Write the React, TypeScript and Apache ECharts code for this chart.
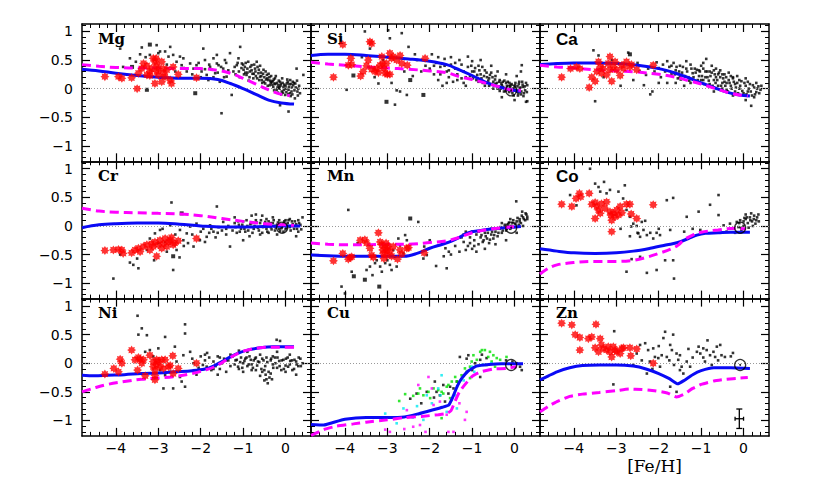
import React, { useEffect, useRef } from 'react';
import * as echarts from 'echarts';

// ---------- axes ----------
const X_MIN = -4.8;
const X_MAX = 0.6;
const Y_MIN = -1.27;
const Y_MAX = 1.13;
const xMajorTicks = [-4, -3, -2, -1, 0];
const xMinorTicks = [-4.6, -4.4, -4.2, -4, -3.8, -3.6, -3.4, -3.2, -3, -2.8, -2.6, -2.4, -2.2, -2, -1.8, -1.6, -1.4, -1.2, -1, -0.8, -0.6, -0.4, -0.2, 0, 0.2, 0.4];
const yMajorTicks = [-1, -0.5, 0, 0.5, 1];
const yMinorTicks = [-1.2, -1.1, -1, -0.9, -0.8, -0.7, -0.6, -0.5, -0.4, -0.3, -0.2, -0.1, 0, 0.1, 0.2, 0.3, 0.4, 0.5, 0.6, 0.7, 0.8, 0.9, 1, 1.1];
const xAxisName = '[Fe/H]';

const panelNames = ['Mg', 'Si', 'Ca', 'Cr', 'Mn', 'Co', 'Ni', 'Cu', 'Zn'];
const sansLabels = ['Ca', 'Co'];

// ---------- Mg ----------
const mgBlack = [-3.90,0.70,-3.83,0.38,-3.67,0.53,-3.53,0.47,-3.43,0.60,-3.39,0.72,-3.20,0.59,-3.04,0.76,-2.96,0.65,-2.84,0.65,-2.76,0.56,-2.72,0.73,-2.65,0.59,-2.57,0.47,-2.49,0.56,-2.45,0.41,-2.41,0.53,-2.33,0.30,-2.25,0.44,-2.17,0.35,-2.10,0.41,-1.98,0.30,-1.94,0.70,-1.90,0.50,-1.86,0.24,-1.82,0.15,-1.78,0.38,-1.74,0.33,-1.70,0.53,-1.66,0.27,-1.62,0.59,-1.58,0.41,-1.55,0.12,-1.51,-0.43,-1.47,0.35,-1.43,0.50,-1.39,0.21,-1.31,0.62,-1.27,-0.11,-1.23,0.30,-1.15,0.41,-1.11,0.53,-1.07,0.73,-1.03,0.44,-0.99,0.33,-0.96,0.38,-0.92,0.24,-0.88,0.47,-0.84,0.30,-0.80,0.41,-0.76,0.18,-0.72,0.35,-0.68,0.47,-0.64,0.27,-0.60,0.21,-0.56,0.15,-0.52,0.33,-0.48,0.09,-0.44,0.24,-0.41,0.15,-0.37,0.06,-0.33,0.12,-0.29,0.03,-0.25,0.18,-0.21,-0.02,-0.17,0.06,-0.13,0.12,-0.09,-0.05,-0.05,0.03,-0.01,-0.11,0.03,0.09,0.07,-0.02,0.11,0.15,0.14,-0.05,0.18,0.06,0.22,-0.17,0.26,0.35,0.30,0.00,0.34,-0.08,0.07,-0.40,-0.13,-0.29,0.42,0.24,-1.2,0.38,-1.1,0.3,-1.0,0.42,-0.95,0.28,-0.9,0.35,-0.85,0.2,-0.8,0.32,-0.75,0.26,-0.7,0.22,-0.66,0.38,-0.62,0.15,-0.58,0.28,-0.55,0.1,-0.5,0.2,-0.46,0.16,-0.42,0.05,-0.38,0.2,-0.35,0.1,-0.3,0.13,-0.27,-0.03,-0.24,0.08,-0.2,0.1,-0.18,-0.07,-0.15,0.02,-0.12,0.05,-0.1,-0.1,-0.07,0.1,-0.04,-0.02,0.0,0.05,0.02,-0.06,0.05,0.12,0.08,0.03,0.1,-0.08,0.13,0.08,0.16,-0.1,0.2,0.1,0.24,0.02,0.28,-0.05,-1.4,0.45,-1.6,0.28,-1.8,0.42,-2.0,0.2,-2.2,0.25,-2.4,0.36,-2.6,0.3,-2.8,0.42,-3.0,0.62,-3.3,0.55,
  -1.18,0.25,-1.13,0.45,-1.08,0.2,-1.04,0.36,-0.98,0.25,-0.94,0.45,-0.9,0.28,-0.87,0.14,-0.83,0.38,-0.78,0.26,-0.74,0.42,-0.71,0.3,-0.67,0.18,-0.63,0.33,-0.6,0.4,-0.57,0.22,-0.53,0.26,-0.51,0.12,-0.47,0.3,-0.43,0.18,-0.4,0.26,-0.36,0.14,-0.34,0.22,-0.31,0.07,-0.28,0.16,-0.26,0.09,-0.23,0.22,-0.19,0.02,-0.16,0.14,-0.14,0.0,-0.11,0.08,-0.08,0.18,-0.06,-0.07,-0.03,0.07,0.01,0.0,0.04,0.16,0.06,-0.1,0.09,0.08,0.12,-0.13,0.15,0.02,0.17,0.12,0.21,-0.03,0.23,0.09,0.27,0.14,0.29,-0.12,0.32,0.05,-1.35,0.32,-1.45,0.2,-1.52,0.38,-1.62,0.44,-1.7,0.2,-1.9,0.34,-2.05,0.45];
const mgBig = [-3.27,-0.02,-2.13,-0.08,-3.2,0.77,-3.62,0.38];
const mgRed = [-4.26,0.21,-3.94,0.21,-3.86,0.18,-3.63,0.19,-3.50,0.0,-3.47,0.27,-3.39,0.35,-3.35,0.44,-3.27,0.24,-3.20,0.30,-3.16,0.35,-3.12,0.53,-3.08,0.47,-3.05,0.53,-3.04,0.41,-3.0,0.35,-3.0,0.24,-2.92,0.47,-2.88,0.35,-2.88,0.27,-2.84,0.21,-2.92,0.12,-3.08,0.09,-2.72,0.15,-2.69,0.09,-2.65,0.38,-2.53,0.25,-2.10,0.19,-3.20,0.23,-3.27,0.40,-3.04,0.30,-2.80,0.33];
const mgBlue = [-4.8,0.34,-4.4,0.31,-4,0.27,-3.5,0.23,-3,0.2,-2.5,0.18,-2,0.18,-1.6,0.16,-1.3,0.09,-1,0.0,-0.7,-0.1,-0.4,-0.2,-0.1,-0.25,0.2,-0.27];
const mgMagenta = [-4.8,0.42,-4.4,0.39,-4,0.37,-3.5,0.36,-3,0.36,-2.5,0.35,-2,0.35,-1.6,0.32,-1.3,0.27,-1,0.18,-0.7,0.08,-0.4,-0.02,-0.1,-0.1,0.1,-0.12];

// ---------- Si ----------
const siBlack = [-3.96,-0.02,-3.53,1.0,-3.41,0.7,-3.21,0.09,-2.98,1.02,-2.94,0.88,-2.82,-0.28,-2.78,-0.03,-2.7,-0.05,-2.54,-0.11,-2.66,0.97,-2.5,0.73,-2.35,0.6,-2.2,0.3,-2.1,0.4,-2.6,0.3,-2.4,0.22,-3.6,0.55,-3.3,0.2,-3.1,0.5,-2.9,0.1,-2.3,0.5,-2.0,0.35,-1.95,0.6,-1.9,0.25,-1.85,0.45,-1.8,0.15,-1.75,0.38,-1.7,0.05,-1.65,0.52,-1.6,0.3,-1.55,0.2,-1.5,0.42,-1.45,0.12,-1.4,0.35,-1.35,0.25,-1.3,0.5,-1.25,0.18,-1.2,0.3,-1.15,0.05,-1.1,0.38,-1.05,0.22,-1.0,0.48,-0.95,0.3,-0.9,0.15,-0.85,0.4,-0.8,0.25,-0.75,0.1,-0.7,0.32,-0.65,0.2,-0.6,0.05,-0.55,0.28,-0.5,0.12,-0.45,0.22,-0.4,0.0,-0.35,0.15,-0.3,0.06,-0.25,-0.05,-0.2,0.1,-0.15,-0.02,-0.1,0.05,-0.05,-0.08,0.0,0.02,0.05,-0.05,0.1,0.08,0.15,-0.1,0.2,0.03,0.25,-0.03,0.3,0.06,-0.6,0.18,-0.5,0.0,-0.45,0.08,-0.35,-0.04,-0.28,0.12,-0.22,0.0,-0.12,0.1,-0.08,-0.04,0.02,0.1,0.08,-0.12,0.12,0.0,0.18,0.12,0.22,-0.08,-0.7,0.05,-0.85,0.12,-1.0,0.3,-1.2,0.1,-1.4,0.45,-1.6,0.1,-1.8,0.55,-1.5,0.55,-1.1,0.56,-0.8,0.5,-0.55,0.4,-0.4,0.3,-0.2,0.25,0.05,0.22,-0.3,-0.15,0.0,-0.2,0.3,-0.22,0.15,0.3,0.17,0.41,0.27,-0.23,
  -1.02,0.4,-0.98,0.18,-0.93,0.36,-0.88,0.24,-0.83,0.32,-0.78,0.18,-0.76,0.38,-0.72,0.22,-0.68,0.1,-0.66,0.28,-0.62,0.14,-0.58,0.24,-0.56,0.08,-0.52,0.2,-0.48,0.06,-0.46,0.16,-0.42,0.1,-0.38,0.04,-0.36,0.12,-0.33,0.0,-0.31,0.09,-0.27,0.03,-0.24,0.14,-0.21,-0.04,-0.18,0.05,-0.16,0.12,-0.13,-0.06,-0.11,0.02,-0.07,0.08,-0.04,0.0,-0.02,-0.12,0.01,0.06,0.04,-0.02,0.07,0.04,0.09,-0.08,0.11,0.12,0.14,0.02,0.16,-0.05,0.19,0.07,0.21,-0.13,0.24,0.04,0.27,0.1,0.29,-0.06,-1.15,0.2,-1.25,0.42,-1.35,0.15,-1.55,0.32,-1.65,0.4,-1.75,0.25,-1.9,0.4];
const siBig = [-3.8,0.23,-3.02,-0.23,-2.46,0.15,-2.15,-0.11];
const siRed = [-4.27,0.20,-4.05,0.77,-3.92,0.41,-3.84,0.42,-3.86,0.53,-3.63,0.22,-3.57,0.30,-3.49,0.40,-3.45,0.50,-3.41,0.82,-3.37,0.79,-3.37,0.34,-3.29,0.30,-3.25,0.35,-3.21,0.28,-3.13,0.56,-3.11,0.44,-3.08,0.35,-3.05,0.27,-3.02,0.44,-3.0,0.25,-2.94,0.62,-2.90,0.53,-2.86,0.56,-2.78,0.50,-2.70,0.58,-2.66,0.44,-2.53,0.41,-2.11,0.53,-2.94,0.25,-3.17,0.41];
const siBlue = [-4.8,0.58,-4.4,0.6,-4,0.6,-3.5,0.58,-3,0.55,-2.5,0.52,-2,0.48,-1.6,0.42,-1.3,0.33,-1,0.23,-0.7,0.12,-0.4,0.04,-0.1,-0.02,0.15,-0.05];
const siMagenta = [-4.8,0.46,-4.4,0.43,-4,0.41,-3.5,0.38,-3,0.36,-2.5,0.34,-2,0.31,-1.6,0.28,-1.3,0.21,-1,0.16,-0.7,0.1,-0.4,0.04,-0.1,-0.02,0.15,-0.03];

// ---------- Ca ----------
const caBlack = [-3.54,0.67,-3.5,-0.22,-3.42,0.58,-3.3,0.2,-3.1,0.5,-2.9,0.05,-2.72,0.63,-2.6,0.15,-2.5,0.45,-2.45,0.3,-2.35,0.06,-2.3,0.24,-2.25,0.35,-2.2,-0.1,-2.15,-0.05,-2.1,0.3,-2.05,0.46,-2.0,0.36,-1.95,0.2,-1.9,0.42,-1.85,0.3,-1.8,0.1,-1.75,0.38,-1.7,0.25,-1.65,0.45,-1.6,0.32,-1.55,0.18,-1.5,0.4,-1.45,0.28,-1.4,0.05,-1.35,0.35,-1.3,0.2,-1.25,0.42,-1.2,0.27,-1.15,0.12,-1.1,0.33,-1.05,0.22,-1.0,0.4,-0.95,0.15,-0.9,0.3,-0.88,0.52,-0.85,0.2,-0.8,0.08,-0.75,0.28,-0.7,0.15,-0.65,0.35,-0.6,0.05,-0.55,0.2,-0.5,0.1,-0.45,0.25,-0.4,-0.02,-0.35,0.15,-0.3,0.05,-0.25,0.18,-0.2,-0.05,-0.15,0.1,-0.1,0.0,-0.05,0.13,0.0,-0.08,0.05,0.05,0.1,-0.05,0.15,0.08,0.2,-0.12,0.25,0.02,0.3,-0.06,0.35,0.04,0.4,-0.02,-1.8,0.48,-1.6,0.1,-1.35,0.48,-1.15,0.35,-0.95,0.45,-0.75,0.4,-0.55,0.32,-0.35,0.28,-0.15,0.22,0.05,0.18,0.18,-0.3,0.05,-0.2,-0.25,-0.12,-0.5,0.0,-0.7,-0.05,-1.0,0.15,-1.25,0.1,-0.65,0.2,-0.45,0.12,-0.3,0.22,-0.1,0.15,0.1,0.12,0.25,-0.15,0.3,0.1,-0.2,0.08,-0.4,0.1,-0.6,0.25,-0.8,0.3,-1.05,0.32,-1.5,0.2,-1.7,0.4,-2.0,0.1,
  -1.62,0.25,-1.58,0.38,-1.52,0.3,-1.48,0.16,-1.43,0.38,-1.38,0.22,-1.33,0.3,-1.28,0.14,-1.23,0.35,-1.18,0.2,-1.13,0.28,-1.08,0.15,-1.03,0.3,-0.98,0.22,-0.93,0.08,-0.9,0.2,-0.86,0.3,-0.82,0.14,-0.78,0.22,-0.73,0.05,-0.68,0.25,-0.66,0.1,-0.62,0.15,-0.58,0.28,-0.53,0.05,-0.48,0.18,-0.43,0.05,-0.41,0.2,-0.37,-0.05,-0.33,0.1,-0.28,0.0,-0.23,0.12,-0.18,0.02,-0.13,-0.08,-0.08,0.05,-0.03,-0.04,0.02,0.1,0.07,-0.1,0.12,0.0,0.17,-0.05,0.22,0.06,0.27,-0.1,0.32,0.0,0.37,-0.08,0.42,0.05,-0.95,0.35,-0.7,0.32,-0.5,0.25,-0.25,0.2];
const caBig = [-2.68,0.6];
const caRed = [-4.29,0.20,-4.08,0.35,-3.94,0.38,-3.86,0.35,-3.64,0.02,-3.58,0.20,-3.50,0.13,-3.46,0.30,-3.42,0.47,-3.38,0.38,-3.35,0.27,-3.31,0.35,-3.23,0.24,-3.19,0.44,-3.15,0.56,-3.15,0.33,-3.11,0.13,-3.07,0.38,-3.03,0.47,-2.99,0.33,-2.91,0.23,-2.87,0.41,-2.83,0.35,-2.76,0.47,-2.68,0.38,-2.64,0.42,-2.52,0.33,-2.13,0.41];
const caBlue = [-4.8,0.42,-4.4,0.44,-4,0.45,-3.5,0.45,-3,0.44,-2.5,0.41,-2,0.35,-1.6,0.27,-1.3,0.19,-1,0.1,-0.7,0.02,-0.4,-0.06,-0.1,-0.11,0.15,-0.13];
const caMagenta = [-4.8,0.41,-4.4,0.38,-4,0.36,-3.5,0.33,-3,0.31,-2.5,0.29,-2,0.25,-1.6,0.2,-1.3,0.14,-1,0.08,-0.7,0.01,-0.4,-0.06,-0.1,-0.11,0.1,-0.13];

// ---------- Cr ----------
const crBlack = [-4.06,-0.92,-3.67,-0.64,-3.59,-0.68,-3.47,-0.74,-3.5,-0.57,-3.27,-0.42,-3.2,-0.22,-3.08,-0.13,-2.96,-0.07,-2.84,-0.28,-2.72,0.01,-2.69,0.41,-2.65,-0.77,-2.57,-0.42,-2.49,-0.07,-2.41,-0.25,-2.33,-0.13,-2.25,-0.01,-2.17,-0.36,-2.1,0.04,-2.02,-0.25,-1.94,-0.05,-1.86,-0.19,-1.78,0.01,-1.7,-0.1,-1.62,0.34,-1.58,-0.02,-1.47,0.07,-1.31,-0.36,-3.9,-0.5,-3.1,-0.6,-2.9,-0.05,-2.6,-0.15,-2.3,-0.3,-2.0,-0.1,-1.9,-0.28,-1.8,-0.12,-1.65,-0.2,-1.5,-0.08,-1.4,-0.15,-1.35,0.0,-1.25,-0.08,-1.2,0.05,-1.15,-0.12,-1.1,0.02,-1.05,-0.05,-1.0,0.08,-0.95,-0.1,-0.9,0.0,-0.85,-0.18,-0.8,0.05,-0.75,-0.05,-0.7,0.1,-0.65,-0.03,-0.6,0.05,-0.55,-0.12,-0.5,0.02,-0.45,-0.05,-0.4,0.08,-0.35,-0.02,-0.3,0.05,-0.25,-0.08,-0.2,0.02,-0.15,0.1,-0.1,-0.04,-0.05,0.04,0.0,-0.06,0.05,0.05,0.1,-0.02,0.15,0.08,0.2,-0.05,0.25,0.03,0.3,-0.1,0.35,0.02,0.4,0.15,-0.7,0.2,-0.55,0.18,-0.3,0.15,-0.45,0.12,0.1,0.12,-0.2,-0.15,0.25,-0.18,-0.6,-0.15,-1.0,-0.25,-0.8,0.18,-1.2,0.15,-0.4,-0.12,0.0,0.1,-0.15,-0.05,0.3,0.1,-0.35,0.05,-0.25,0.0,-0.05,-0.1,
  -1.18,-0.02,-1.12,0.08,-1.08,-0.1,-1.02,0.02,-0.97,-0.05,-0.92,0.1,-0.88,-0.08,-0.83,0.03,-0.78,-0.12,-0.73,0.0,-0.68,0.06,-0.63,-0.08,-0.58,0.1,-0.53,-0.02,-0.48,0.07,-0.43,-0.1,-0.38,0.02,-0.33,-0.06,-0.28,0.1,-0.23,-0.03,-0.18,0.06,-0.13,-0.09,-0.08,0.02,-0.03,0.08,0.02,-0.03,0.07,0.1,0.12,-0.08,0.17,0.03,0.22,0.08,0.27,-0.05,0.32,0.05,0.37,-0.06,-1.4,-0.05,-1.6,-0.12,-1.75,-0.05,-2.2,-0.15,-2.4,-0.35,-2.8,-0.45,-3.0,-0.3,-2.5,-0.55];
const crBig = [-2.45,0.22,-2.65,-0.53];
const crRed = [-4.26,-0.43,-4.06,-0.42,-3.94,-0.41,-3.86,-0.42,-3.83,-0.48,-3.63,-0.47,-3.55,-0.42,-3.47,-0.39,-3.43,-0.45,-3.35,-0.36,-3.27,-0.33,-3.2,-0.42,-3.16,-0.31,-3.12,-0.36,-3.08,-0.28,-3.04,-0.53,-3.0,-0.33,-2.96,-0.25,-2.92,-0.39,-2.88,-0.31,-2.84,-0.22,-2.8,-0.36,-2.76,-0.28,-2.72,-0.25,-2.69,-0.2,-2.65,-0.33,-2.61,-0.3,-2.53,-0.26,-2.1,-0.22];
const crBlue = [-4.8,-0.03,-4.4,0.02,-4,0.04,-3.5,0.05,-3,0.05,-2.5,0.03,-2,0.0,-1.5,-0.02,-1,-0.02,-0.5,-0.01,0,0.0,0.35,0.0];
const crMagenta = [-4.8,0.31,-4.4,0.26,-4,0.24,-3.5,0.23,-3,0.22,-2.5,0.21,-2,0.18,-1.5,0.13,-1,0.08,-0.5,0.04,0,0.02,0.2,0.01];

// ---------- Mn ----------
const mnBlack = [-4.08,-1.06,-3.92,0.28,-4.0,-1.18,-3.84,-0.8,-3.49,-0.77,-3.41,-0.71,-3.35,-0.86,-3.29,-0.65,-3.25,-0.6,-3.17,-0.71,-3.13,-0.8,-3.05,-0.65,-3.0,-0.6,-2.94,-0.68,-2.9,-0.77,-2.86,-0.42,-2.82,-0.54,-2.78,-0.71,-2.74,-0.22,-2.7,-0.34,-2.62,-0.48,-2.58,-0.16,-2.54,-0.25,-2.27,0.07,-2.15,-0.57,-2.13,-0.36,-2.07,-0.51,-1.67,-0.53,-1.63,-0.39,-1.6,-0.74,-1.55,-0.45,-1.5,-0.5,-1.4,-0.35,-1.3,-0.45,-1.25,-0.2,-1.2,-0.28,-1.15,-0.1,-1.1,-0.35,-1.05,-0.2,-1.0,-0.4,-0.95,-0.25,-0.9,-0.15,-0.85,-0.32,-0.8,-0.2,-0.75,-0.28,-0.7,-0.12,-0.65,-0.22,-0.6,-0.3,-0.55,-0.15,-0.5,-0.22,-0.45,-0.1,-0.4,-0.18,-0.35,-0.05,-0.3,-0.12,-0.25,-0.02,-0.2,-0.08,-0.15,0.02,-0.1,-0.05,-0.05,0.05,0.0,-0.02,0.05,0.08,0.1,0.02,0.12,0.12,0.15,0.05,0.2,0.15,0.25,0.1,0.28,0.2,0.3,0.12,0.04,0.43,-0.7,-0.4,-0.45,-0.32,-0.2,-0.25,-0.9,-0.45,-1.0,-0.1,0.05,-0.12,-0.3,0.05,0.2,0.0,-0.55,-0.05,-0.1,0.12,0.18,0.25,-1.3,-0.2,-2.0,-0.25,-1.85,-0.7,-3.7,-0.3,
  -0.78,-0.16,-0.73,-0.25,-0.68,-0.18,-0.63,-0.12,-0.58,-0.24,-0.53,-0.1,-0.48,-0.16,-0.43,-0.05,-0.38,-0.12,-0.33,-0.02,-0.28,-0.08,-0.23,0.02,-0.18,-0.05,-0.13,0.06,-0.08,0.0,-0.03,0.1,0.02,0.04,0.07,0.14,0.12,0.08,0.17,0.18,0.22,0.12,0.26,0.22,0.3,0.16,-0.95,-0.35,-1.05,-0.3,-1.15,-0.42,-1.2,-0.15,-0.85,-0.1];
const mnBig = [-3.53,-0.94,-3.19,-1.06,-2.46,0.13,-3.79,-0.88];
const mnRed = [-4.27,-0.61,-4.05,-0.48,-3.92,-0.58,-3.88,-0.55,-3.84,-0.54,-3.64,-0.25,-3.53,-0.24,-3.49,-0.30,-3.41,-0.39,-3.37,-0.51,-3.33,-0.55,-3.21,-0.12,-3.17,-0.28,-3.13,-0.33,-3.11,-0.42,-3.09,-0.48,-3.08,-0.57,-3.05,-0.39,-3.03,-0.30,-3.02,-0.51,-3.0,-0.42,-2.98,-0.36,-2.94,-0.45,-2.90,-0.53,-2.86,-0.36,-2.76,-0.58,-2.70,-0.42,-2.66,-0.49,-2.54,-0.39,-2.50,-0.38,-2.13,-0.47];
const mnBlue = [-4.8,-0.51,-4.4,-0.52,-4,-0.53,-3.5,-0.53,-3,-0.53,-2.6,-0.53,-2.3,-0.48,-2,-0.39,-1.7,-0.32,-1.5,-0.27,-1.3,-0.2,-1.1,-0.12,-0.8,-0.08,-0.5,-0.05,-0.2,-0.03,0.15,-0.01];
const mnMagenta = [-4.8,-0.3,-4.4,-0.32,-4,-0.33,-3.5,-0.33,-3,-0.32,-2.5,-0.32,-2,-0.29,-1.6,-0.26,-1.3,-0.2,-1.0,-0.12,-0.7,-0.07,-0.4,-0.04,-0.1,-0.02,0.1,-0.01];

// ---------- Co ----------
const coBlack = [-3.62,1.0,-4.09,0.54,-3.94,0.36,-3.5,0.74,-3.42,0.68,-3.29,0.77,-3.38,0.6,-3.23,0.57,-3.15,0.63,-2.95,0.6,-2.8,0.71,-2.84,0.48,-2.76,0.28,-2.68,0.16,-2.65,-0.01,-2.6,0.04,-2.68,-0.18,-2.52,0.0,-2.48,-0.13,-2.44,-0.19,-2.4,0.07,-2.32,0.09,-2.36,-0.07,-2.28,-0.16,-2.2,-0.12,-2.13,-0.22,-2.05,-0.12,-1.97,-0.16,-1.81,0.45,-1.66,0.49,-1.73,-0.07,-1.66,-0.6,-1.64,-0.92,-2.05,-0.77,-2.28,-0.82,-2.76,-0.8,-2.64,-0.58,-2.44,-0.54,-1.85,-0.6,-1.34,0.16,-1.06,0.25,-1.02,-0.07,-0.79,0.37,-0.59,0.54,-0.59,0.19,-0.47,0.01,-0.4,-0.1,-0.32,0.04,-0.24,-0.04,-0.16,0.07,-0.08,0.1,0.0,0.0,0.05,0.12,0.1,0.05,0.15,0.15,0.2,0.08,0.25,0.18,0.3,0.1,0.35,0.2,0.12,-0.03,0.22,0.0,-0.05,-0.08,-0.2,-0.12,-1.4,-0.1,-2.0,-0.05,-1.2,-0.05,-2.9,-0.05,-2.5,-0.12,0.28,0.04,0.05,0.2,0.18,0.22,
  -0.1,0.05,0.0,0.08,0.08,0.15,0.16,0.1,0.24,0.12,0.32,0.15,0.36,0.08,0.02,0.14,-0.12,-0.02];
const coBig: number[] = [];
const coRed = [-4.29,0.38,-4.05,0.34,-3.95,0.48,-3.87,0.57,-3.84,0.51,-3.64,0.57,-3.58,0.38,-3.50,0.41,-3.46,0.34,-3.50,0.13,-3.42,0.28,-3.38,0.22,-3.35,0.39,-3.27,0.31,-3.23,0.42,-3.15,0.25,-3.13,0.19,-3.11,-0.10,-3.11,0.10,-3.07,0.22,-3.03,0.16,-2.99,0.28,-2.95,0.19,-2.91,0.34,-2.87,0.23,-2.76,0.38,-2.68,0.38,-2.65,0.21,-2.52,0.13,-2.13,0.37];
const coBlue = [-4.8,-0.4,-4.4,-0.44,-4,-0.47,-3.5,-0.48,-3,-0.47,-2.6,-0.44,-2.2,-0.39,-1.8,-0.33,-1.55,-0.29,-1.3,-0.22,-1.1,-0.16,-0.9,-0.13,-0.6,-0.12,-0.3,-0.11,0.15,-0.11];
const coMagenta = [-4.8,-0.84,-4.6,-0.74,-4.4,-0.68,-4,-0.64,-3.5,-0.62,-3,-0.62,-2.6,-0.6,-2.3,-0.55,-2,-0.48,-1.7,-0.4,-1.55,-0.34,-1.4,-0.24,-1.2,-0.16,-1.0,-0.11,-0.6,-0.07,-0.2,-0.04,0.05,-0.05];

// ---------- Ni ----------
const niBlack = [-3.49,0.83,-3.39,0.61,-3.47,0.5,-3.27,0.49,-3.31,0.2,-3.2,0.23,-3.12,0.12,-3.0,0.26,-2.96,-0.12,-2.84,0.46,-2.88,-0.44,-2.84,-0.21,-2.72,-0.15,-2.65,-0.44,-2.61,0.29,-2.57,0.03,-2.49,-0.24,-2.45,-0.32,-2.37,-0.41,-2.41,0.14,-2.37,0.68,-2.37,0.52,-2.25,0.2,-2.17,0.0,-2.1,-0.2,-2.0,0.12,-1.95,-0.03,-1.9,0.05,-1.86,-0.06,-1.8,0.1,-1.75,-0.12,-1.7,0.03,-1.65,-0.05,-1.6,0.12,-1.55,-0.1,-1.5,0.0,-1.45,0.08,-1.4,-0.15,-1.35,0.05,-1.3,-0.05,-1.25,0.12,-1.2,-0.02,-1.15,0.06,-1.1,-0.1,-1.05,0.1,-1.0,0.0,-0.95,0.08,-0.9,-0.05,-0.85,0.12,-0.8,-0.02,-0.75,0.05,-0.7,-0.12,-0.65,0.03,-0.6,-0.22,-0.55,0.08,-0.5,-0.3,-0.48,-0.05,-0.45,0.1,-0.42,-0.35,-0.4,-0.15,-0.35,0.05,-0.32,-0.28,-0.3,-0.02,-0.25,0.1,-0.21,0.41,-0.2,-0.08,-0.15,0.04,-0.13,0.39,-0.1,-0.12,-0.05,0.06,0.0,-0.04,0.05,0.1,0.1,-0.02,0.15,0.05,0.2,-0.1,0.25,0.03,0.3,-0.05,0.35,0.08,0.4,0.0,-0.9,0.2,-1.1,0.22,-0.6,0.15,-0.2,0.2,0.1,0.15,-0.7,0.1,-0.3,0.12,0.0,-0.15,0.25,-0.2,-0.55,-0.15,-0.8,-0.12,-1.0,-0.15,-1.3,0.15,-1.6,-0.2,-1.85,0.18,
  -1.18,0.05,-1.12,-0.06,-1.07,0.02,-1.02,-0.08,-0.97,0.04,-0.92,0.1,-0.87,-0.02,-0.82,0.06,-0.77,-0.08,-0.72,0.08,-0.67,-0.04,-0.62,0.02,-0.57,-0.1,-0.52,0.05,-0.47,-0.2,-0.43,0.02,-0.38,-0.25,-0.34,0.08,-0.29,-0.08,-0.24,0.0,-0.19,0.1,-0.14,-0.05,-0.09,0.05,-0.04,-0.1,0.01,0.08,0.06,-0.06,0.11,0.04,0.16,-0.12,0.21,0.06,0.26,-0.02,0.31,0.1,0.36,-0.05,-1.4,0.05,-1.55,0.1,-1.7,-0.1,-1.9,0.15,-2.05,-0.08,-2.2,0.08,-0.45,-0.28,-0.5,-0.12,-0.35,-0.18];
const niBig: number[] = [];
const niRed = [-4.26,-0.19,-4.05,-0.09,-3.94,-0.15,-3.90,0.07,-3.86,0.0,-3.63,0.23,-3.55,0.06,-3.49,-0.12,-3.47,0.10,-3.43,0.07,-3.39,0.0,-3.35,0.06,-3.31,-0.22,-3.20,0.14,-3.12,0.03,-3.12,-0.06,-3.08,-0.12,-3.08,-0.21,-3.08,-0.29,-3.04,0.06,-3.04,-0.03,-3.0,0.03,-2.96,-0.06,-2.92,0.06,-2.88,-0.09,-2.84,0.06,-2.76,-0.06,-2.72,-0.04,-2.65,-0.18,-2.66,0.13,-2.53,-0.09,-2.10,0.0];
const niBlue = [-4.8,-0.21,-4.5,-0.22,-4.2,-0.21,-3.8,-0.2,-3.4,-0.18,-3,-0.17,-2.6,-0.15,-2.2,-0.13,-1.9,-0.1,-1.7,-0.05,-1.5,0.03,-1.3,0.11,-1.1,0.18,-0.9,0.23,-0.6,0.27,-0.3,0.29,0,0.29,0.2,0.29];
const niMagenta = [-4.8,-0.5,-4.5,-0.43,-4.2,-0.37,-3.8,-0.32,-3.4,-0.28,-3,-0.26,-2.6,-0.23,-2.2,-0.18,-1.9,-0.12,-1.7,-0.07,-1.5,0.01,-1.3,0.1,-1.1,0.18,-0.9,0.23,-0.6,0.27,-0.3,0.28,0,0.28,0.2,0.28];

// ---------- Cu ----------
const cuBlack = [-2.46,-0.62,-2.31,-0.53,-2.07,-0.5,-1.88,-0.32,-1.84,-0.5,-1.76,-0.56,-1.68,-0.38,-1.64,-0.67,-1.56,-0.53,-1.52,-0.41,-1.44,-0.44,-1.36,-0.32,-1.29,0.11,-1.13,0.08,-1.09,0.14,-0.93,0.0,-0.81,0.06,-0.81,-0.24,-0.77,0.15,-0.66,0.09,-0.2,0.05,0.13,-0.06,0.17,-0.12,0.05,0.0,-0.05,0.03,-2.2,-0.7,-1.9,-0.6,-1.0,-0.12];
const cuBig: number[] = [];
const cuRed: number[] = [];
const cuGreen = [-2.72,-0.66,-2.58,-0.54,-2.39,-0.57,-2.27,-0.53,-2.15,-0.56,-2.03,-0.50,-1.91,-0.44,-1.80,-0.47,-1.72,-0.50,-1.68,-0.53,-1.60,-0.41,-1.56,-0.38,-1.48,-0.32,-1.40,-0.24,-1.36,-0.32,-1.25,-0.21,-1.17,-0.09,-1.13,-0.15,-1.05,-0.06,-1.01,0.03,-0.97,0.14,-0.89,0.06,-0.81,0.20,-0.77,0.23,-0.70,0.23,-0.66,-0.03,-0.62,0.11,-0.58,0.20,-0.54,0.03,-0.50,0.14,-0.46,-0.06,-0.42,0.09,-0.34,0.06,-0.19,0.11,-1.05,-0.26,-1.52,-0.61,-1.72,-0.96,-1.99,-0.61,-2.23,-0.44];
const cuCyan = [-3.05,-0.88,-2.78,-1.05,-2.62,-0.79,-2.4,-0.95,-2.15,-0.99,-2.07,-0.56,-1.95,-0.7,-1.8,-0.44,-1.72,-0.21,-1.75,-0.56,-1.48,-0.64,-1.4,-0.56,-1.36,-0.79,-1.2,-0.3,-1.01,-0.06,-0.95,-0.15,-0.75,-0.02,-2.3,-0.75,-1.6,-0.85,-0.55,0.0];
const cuPink = [-3.05,-1.16,-2.94,-1.2,-2.54,-0.82,-2.39,-1.11,-2.27,-0.38,-2.23,-1.08,-2.03,-0.24,-1.95,-0.44,-1.91,-0.73,-1.76,-0.67,-1.6,-0.9,-1.56,-1.2,-1.44,-1.2,-1.17,-0.99,-1.13,-0.85,-2.1,-1.2,-1.3,-0.7,-2.6,-1.15];
const cuBlue = [-4.8,-1.07,-4.5,-1.08,-4.3,-1.04,-4.0,-0.98,-3.5,-0.95,-3.0,-0.95,-2.6,-0.94,-2.3,-0.89,-2.0,-0.83,-1.7,-0.77,-1.55,-0.73,-1.45,-0.58,-1.35,-0.4,-1.25,-0.27,-1.1,-0.14,-0.9,-0.05,-0.6,-0.02,-0.3,-0.01,0.2,-0.01];
const cuMagenta = [-4.8,-1.26,-4.5,-1.16,-4.2,-1.1,-3.8,-1.06,-3.5,-1.03,-3,-0.99,-2.6,-0.95,-2.2,-0.93,-1.8,-0.9,-1.6,-0.88,-1.5,-0.83,-1.4,-0.66,-1.3,-0.5,-1.2,-0.4,-1.0,-0.23,-0.8,-0.15,-0.5,-0.1,-0.2,-0.09,0.05,-0.06];

// ---------- Zn ----------
const znBlack = [-3.05,0.56,-3.07,-0.37,-2.6,-0.03,-2.52,0.17,-2.44,0.32,-2.32,0.35,-2.28,-0.18,-2.25,0.23,-2.21,0.03,-2.13,0.26,-2.09,0.11,-2.01,0.09,-1.97,-0.06,-1.93,0.14,-1.89,0.44,-1.85,0.55,-1.81,0.11,-1.73,0.32,-1.69,0.23,-1.66,0.5,-1.64,-0.03,-1.58,0.17,-1.54,0.06,-1.5,0.14,-1.46,-0.06,-1.42,-0.18,-1.34,0.03,-1.26,-0.06,-1.1,0.2,-1.06,0.29,-1.02,0.17,-0.95,0.26,-0.91,0.03,-0.87,0.23,-0.79,0.14,-0.75,-0.03,-0.71,0.2,-0.67,0.11,-0.63,0.29,-0.55,0.32,-0.52,0.14,-0.44,0.11,-1.73,-0.41,-1.58,-0.5,-2.0,0.3,-1.2,0.1,-0.85,0.4,-0.6,0.05,-2.4,0.05,-1.75,0.05,-1.3,0.25,-0.3,0.12,-0.25,0.18,-0.95,0.1,-2.15,-0.1,-1.5,-0.12];
const znBig: number[] = [];
const znRed = [-4.29,0.70,-4.05,0.67,-3.97,0.50,-3.86,0.45,-3.86,0.23,-3.66,0.43,-3.58,0.46,-3.48,0.68,-3.50,0.27,-3.42,0.20,-3.38,0.43,-3.35,0.32,-3.31,0.26,-3.23,0.23,-3.19,0.29,-3.15,0.20,-3.11,0.11,-3.07,0.29,-3.03,0.23,-2.99,0.20,-2.91,0.17,-2.87,0.26,-2.83,0.27,-2.68,0.27,-2.66,0.13,-2.52,0.25,-2.13,0.0];
const znBlue = [-4.8,-0.29,-4.6,-0.22,-4.4,-0.15,-4.1,-0.08,-3.8,-0.04,-3.4,-0.03,-3,-0.03,-2.6,-0.05,-2.3,-0.1,-2.0,-0.18,-1.75,-0.27,-1.55,-0.36,-1.4,-0.3,-1.2,-0.2,-1.0,-0.13,-0.7,-0.08,-0.3,-0.08,0.15,-0.09];
const znMagenta = [-4.8,-0.85,-4.6,-0.75,-4.4,-0.67,-4.1,-0.58,-3.8,-0.54,-3.4,-0.51,-3,-0.48,-2.7,-0.45,-2.4,-0.46,-2.1,-0.48,-1.8,-0.52,-1.58,-0.59,-1.4,-0.54,-1.2,-0.44,-1.0,-0.37,-0.7,-0.31,-0.4,-0.28,-0.1,-0.26,0.1,-0.25];
const znErrorBar = [-0.1, -0.97, 0.1, 0.17]; // x, y, half-width, half-height

// Solar symbol position and which panels show it
const solarPoint = [-0.08, -0.03];
const solarPanels = ['Si', 'Cr', 'Mn', 'Co', 'Cu', 'Zn'];

const blackByPanel = [mgBlack, siBlack, caBlack, crBlack, mnBlack, coBlack, niBlack, cuBlack, znBlack];
const bigByPanel = [mgBig, siBig, caBig, crBig, mnBig, coBig, niBig, cuBig, znBig];
const redByPanel = [mgRed, siRed, caRed, crRed, mnRed, coRed, niRed, cuRed, znRed];
const blueByPanel = [mgBlue, siBlue, caBlue, crBlue, mnBlue, coBlue, niBlue, cuBlue, znBlue];
const magentaByPanel = [mgMagenta, siMagenta, caMagenta, crMagenta, mnMagenta, coMagenta, niMagenta, cuMagenta, znMagenta];
const sharpPanels = ['Cu', 'Zn'];

const pairs = (a: number[]) => {
  const out: number[][] = [];
  for (let i = 0; i + 1 < a.length; i += 2) out.push([a[i], a[i + 1]]);
  return out;
};

const fmt = (v: number) => (v < 0 ? '\u2212' + String(-v) : String(v));

const ASTERISK = 'path://M20 10L16 12.49L17.07 17.07L12.49 16L10 20L7.51 16L2.93 17.07L4 12.49L0 10L4 7.51L2.93 2.93L7.51 4L10 0L12.49 4L17.07 2.93L16 7.51Z';

// layout
const GRID_LEFT = 82;
const GRID_TOP = 24;
const CELL_W = 229;
const CELL_H = 137.3;

function buildOption() {
  const grids: any[] = [];
  const xAxes: any[] = [];
  const yAxes: any[] = [];
  const series: any[] = [];
  const titles: any[] = [];
  const lineStyle = { color: '#000', width: 1.5 };
  const minorTick = { color: '#000', width: 1 };
  const majorTick = { color: '#000', width: 1.2 };

  panelNames.forEach((name, i) => {
    const r = Math.floor(i / 3);
    const c = i % 3;
    const left = GRID_LEFT + c * CELL_W;
    const top = GRID_TOP + r * CELL_H;
    grids.push({ left, top, width: CELL_W, height: CELL_H, containLabel: false, outerBoundsMode: 'none' });

    const xb = { type: 'value', gridIndex: i, min: X_MIN, max: X_MAX, splitLine: { show: false } };
    const mainX: any = {
      ...xb, position: 'bottom',
      axisLine: { show: true, onZero: false, lineStyle },
      axisTick: { show: true, inside: true, length: 4, customValues: xMinorTicks, lineStyle: minorTick },
      axisLabel: { show: r === 2, customValues: xMajorTicks, formatter: fmt, margin: 5, fontSize: 14, color: '#000', fontFamily: 'DejaVu Sans' },
    };
    if (i === 8) {
      mainX.name = xAxisName;
      mainX.nameLocation = 'middle';
      mainX.nameGap = 22;
      mainX.nameTextStyle = { fontFamily: 'DejaVu Serif', fontSize: 17, color: '#000' };
    }
    xAxes.push(mainX);
    xAxes.push({ ...xb, position: 'bottom', axisLine: { show: false, onZero: false }, axisTick: { show: true, inside: true, length: 8, customValues: xMajorTicks, lineStyle: majorTick }, axisLabel: { show: false } });
    xAxes.push({ ...xb, position: 'top', axisLine: { show: true, onZero: false, lineStyle }, axisTick: { show: true, inside: true, length: 4, customValues: xMinorTicks, lineStyle: minorTick }, axisLabel: { show: false } });
    xAxes.push({ ...xb, position: 'top', axisLine: { show: false, onZero: false }, axisTick: { show: true, inside: true, length: 8, customValues: xMajorTicks, lineStyle: majorTick }, axisLabel: { show: false } });

    const yb = { type: 'value', gridIndex: i, min: Y_MIN, max: Y_MAX, splitLine: { show: false } };
    yAxes.push({
      ...yb, position: 'left',
      axisLine: { show: true, onZero: false, lineStyle },
      axisTick: { show: true, inside: true, length: 4, customValues: yMinorTicks, lineStyle: minorTick },
      axisLabel: { show: c === 0, customValues: yMajorTicks, formatter: fmt, margin: 9, fontSize: 14, color: '#000', fontFamily: 'DejaVu Sans' },
    });
    yAxes.push({ ...yb, position: 'left', axisLine: { show: false, onZero: false }, axisTick: { show: true, inside: true, length: 8, customValues: yMajorTicks, lineStyle: majorTick }, axisLabel: { show: false } });
    yAxes.push({ ...yb, position: 'right', axisLine: { show: true, onZero: false, lineStyle }, axisTick: { show: true, inside: true, length: 4, customValues: yMinorTicks, lineStyle: minorTick }, axisLabel: { show: false } });
    yAxes.push({ ...yb, position: 'right', axisLine: { show: false, onZero: false }, axisTick: { show: true, inside: true, length: 8, customValues: yMajorTicks, lineStyle: majorTick }, axisLabel: { show: false } });

    const ax = { xAxisIndex: 4 * i, yAxisIndex: 4 * i };

    series.push({
      ...ax, type: 'scatter', symbol: 'rect', symbolSize: 2.6, z: 2,
      itemStyle: { color: '#000' }, data: pairs(blackByPanel[i]), silent: true,
      markLine: {
        silent: true, symbol: ['none', 'none'], label: { show: false },
        lineStyle: { color: '#999', type: [1, 2], width: 1 },
        data: [{ yAxis: 0 }],
      },
    });
    if (bigByPanel[i].length) {
      series.push({ ...ax, type: 'scatter', symbol: 'rect', symbolSize: 4, z: 2, itemStyle: { color: '#000' }, data: pairs(bigByPanel[i]) });
    }
    if (name === 'Cu') {
      series.push({ ...ax, type: 'scatter', symbol: 'rect', symbolSize: 2.6, z: 3, itemStyle: { color: '#00e000' }, data: pairs(cuGreen) });
      series.push({ ...ax, type: 'scatter', symbol: 'rect', symbolSize: 2.6, z: 3, itemStyle: { color: '#00e8f0' }, data: pairs(cuCyan) });
      series.push({ ...ax, type: 'scatter', symbol: 'rect', symbolSize: 2.6, z: 3, itemStyle: { color: '#ff00ff' }, data: pairs(cuPink) });
    }
    const smooth = sharpPanels.includes(name) ? 0.15 : 0.35;
    series.push({
      ...ax, type: 'line', showSymbol: false, symbol: 'none', smooth, z: 5,
      lineStyle: { color: '#0a0af5', width: 3 }, data: pairs(blueByPanel[i]),
    });
    series.push({
      ...ax, type: 'line', showSymbol: false, symbol: 'none', smooth, z: 6,
      lineStyle: { color: '#ff00ff', width: 3, type: [9, 5] }, data: pairs(magentaByPanel[i]),
    });
    if (redByPanel[i].length) {
      series.push({ ...ax, type: 'scatter', symbol: ASTERISK, symbolSize: 9, z: 7, itemStyle: { color: '#ff0000' }, data: pairs(redByPanel[i]) });
    }
    if (solarPanels.includes(name)) {
      series.push({
        ...ax, type: 'scatter', symbol: 'circle', symbolSize: 11, z: 8,
        itemStyle: { color: 'rgba(0,0,0,0)', borderColor: '#000', borderWidth: 1.3 },
        data: [solarPoint],
      });
      series.push({ ...ax, type: 'scatter', symbol: 'circle', symbolSize: 2, z: 8, itemStyle: { color: '#000' }, data: [solarPoint] });
    }
    if (name === 'Zn') {
      series.push({
        ...ax, type: 'custom', z: 8,
        data: [znErrorBar],
        renderItem: (params: any, api: any) => {
          const x = api.value(0), y = api.value(1), dx = api.value(2), dy = api.value(3);
          const l = api.coord([x - dx, y]);
          const rr = api.coord([x + dx, y]);
          const t = api.coord([x, y + dy]);
          const b = api.coord([x, y - dy]);
          const st = { stroke: '#000', lineWidth: 1.3 };
          return {
            type: 'group',
            children: [
              { type: 'line', shape: { x1: l[0], y1: l[1], x2: rr[0], y2: rr[1] }, style: st },
              { type: 'line', shape: { x1: t[0], y1: t[1], x2: b[0], y2: b[1] }, style: st },
              { type: 'line', shape: { x1: t[0] - 3, y1: t[1], x2: t[0] + 3, y2: t[1] }, style: st },
              { type: 'line', shape: { x1: b[0] - 3, y1: b[1], x2: b[0] + 3, y2: b[1] }, style: st },
              { type: 'line', shape: { x1: l[0], y1: l[1] - 2, x2: l[0], y2: l[1] + 2 }, style: st },
              { type: 'line', shape: { x1: rr[0], y1: rr[1] - 2, x2: rr[0], y2: rr[1] + 2 }, style: st },
            ],
          };
        },
      });
    }

    const sans = sansLabels.includes(name);
    titles.push({
      text: name, left: left + 16, top: top + 7, padding: 0,
      textStyle: { fontFamily: sans ? 'Liberation Sans' : 'DejaVu Serif', fontWeight: 'bold', fontSize: sans ? 17 : 15, color: '#000' },
    });
  });

  return {
    animation: false,
    backgroundColor: '#fff',
    textStyle: { fontFamily: 'DejaVu Sans' },
    title: titles,
    grid: grids,
    xAxis: xAxes,
    yAxis: yAxes,
    series,
  };
}

export default function App() {
  const ref = useRef<HTMLDivElement>(null);
  useEffect(() => {
    if (!ref.current) return;
    const chart = echarts.init(ref.current, null, { renderer: 'svg' });
    chart.setOption(buildOption() as any);
    return () => chart.dispose();
  }, []);
  return <div ref={ref} style={{ position: 'fixed', left: 0, top: 0, width: 817, height: 491 }} />;
}
